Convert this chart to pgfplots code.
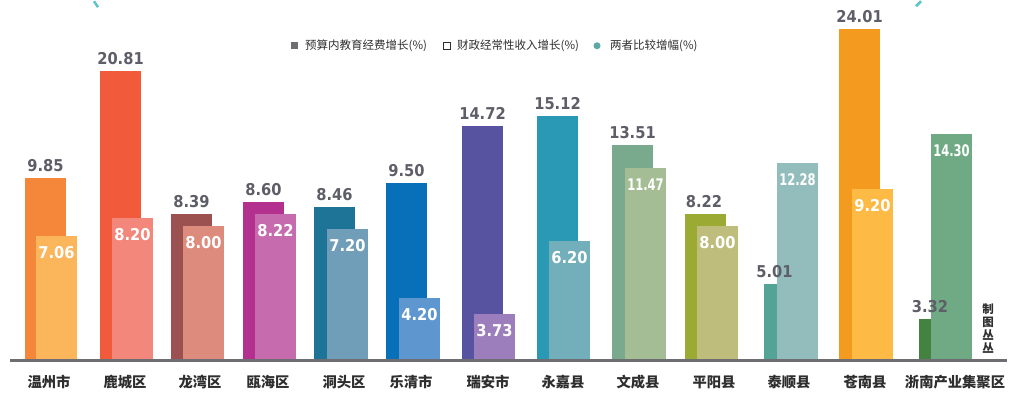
\documentclass[border=0pt]{standalone}
\usepackage{pgfplots}
\pgfplotsset{compat=1.18}
\usepackage{fontspec}
\setmainfont{DejaVu Sans}
\newfontfamily\cjk{Noto Sans CJK SC}
\newfontfamily\numfont[FakeStretch=0.9]{DejaVu Sans}
\newfontfamily\numnarrow[FakeStretch=0.72]{DejaVu Sans}
\definecolor{aA}{HTML}{F4873A}\definecolor{aB}{HTML}{FBB55A}
\definecolor{bA}{HTML}{F15A3A}\definecolor{bB}{HTML}{F3877B}
\definecolor{cA}{HTML}{9A5150}\definecolor{cB}{HTML}{DC8B7D}
\definecolor{dA}{HTML}{B3308F}\definecolor{dB}{HTML}{C66CAE}
\definecolor{eA}{HTML}{1E7496}\definecolor{eB}{HTML}{709EB8}
\definecolor{fA}{HTML}{0870B8}\definecolor{fB}{HTML}{5E97D0}
\definecolor{gA}{HTML}{5853A1}\definecolor{gB}{HTML}{9C7EBD}
\definecolor{hA}{HTML}{2A99B6}\definecolor{hB}{HTML}{72AFBB}
\definecolor{iA}{HTML}{7AAA8D}\definecolor{iB}{HTML}{A4BD94}
\definecolor{jA}{HTML}{9BAA33}\definecolor{jB}{HTML}{BEBD7B}
\definecolor{kA}{HTML}{53A497}\definecolor{kB}{HTML}{92BDBC}
\definecolor{lA}{HTML}{F49A1F}\definecolor{lB}{HTML}{FDBB46}
\definecolor{mA}{HTML}{44833F}\definecolor{mB}{HTML}{6FAA84}
\definecolor{lblgray}{HTML}{5E5E68}
\definecolor{axgray}{HTML}{6E6E72}
\definecolor{txt}{HTML}{2E2E2E}
\definecolor{deco}{HTML}{5CC6C4}
\pgfplotsset{bb/.style={ybar, bar width=41, bar shift=0pt, draw=none, fill=#1}}
\begin{document}
\begin{tikzpicture}
\begin{axis}[
  width=1012pt, height=398pt, scale only axis,
  xmin=0, xmax=1012, ymin=-40, ymax=358,
  axis line style={draw=none},
  ytick=\empty,
  xtick={49,125,200,268,344,411,488,563,638,714,789,865,955},
  xticklabels={温州市,鹿城区,龙湾区,瓯海区,洞头区,乐清市,瑞安市,永嘉县,文成县,平阳县,泰顺县,苍南县,浙南产业集聚区},
  major tick length=0pt,
  xticklabel style={anchor=center, yshift=17pt, inner sep=0pt, text=txt,
    font=\cjk\bfseries\fontsize{14.3}{14.3}\selectfont},
  clip=false,
]
\path (axis cs:0,-40) rectangle (axis cs:1012,358);
% first series (budget education spending growth), bar heights as drawn
\addplot[bb=aA] coordinates {(45.5,181)};
\addplot[bb=bA] coordinates {(120.5,288)};
\addplot[bb=cA] coordinates {(191.5,145)};
\addplot[bb=dA] coordinates {(263.5,157)};
\addplot[bb=eA] coordinates {(334.5,152)};
\addplot[bb=fA] coordinates {(406.5,176)};
\addplot[bb=gA] coordinates {(482.5,233)};
\addplot[bb=hA] coordinates {(557.5,243)};
\addplot[bb=iA] coordinates {(632.5,214)};
\addplot[bb=jA] coordinates {(705.5,145)};
\addplot[bb=kA] coordinates {(784.5,75)};
\addplot[bb=lA] coordinates {(859.5,330)};
\addplot[bb=mA] coordinates {(939.5,40)};
% second series (fiscal recurring revenue growth)
\addplot[bb=aB] coordinates {(56.5,123)};
\addplot[bb=bB] coordinates {(132.5,141)};
\addplot[bb=cB] coordinates {(203.5,133)};
\addplot[bb=dB] coordinates {(275.5,145)};
\addplot[bb=eB] coordinates {(347.5,130)};
\addplot[bb=fB] coordinates {(419.5,61)};
\addplot[bb=gB] coordinates {(494.5,45)};
\addplot[bb=hB] coordinates {(569.5,118)};
\addplot[bb=iB] coordinates {(645.5,191)};
\addplot[bb=jB] coordinates {(717.5,133)};
\addplot[bb=kB] coordinates {(797.5,196)};
\addplot[bb=lB] coordinates {(872.5,170)};
\addplot[bb=mB] coordinates {(951.5,225)};
% value labels
\addplot[draw=none, mark=none, point meta=explicit symbolic, nodes near coords,
  nodes near coords style={anchor=base, inner sep=0pt, yshift=7pt, text=lblgray,
    font=\numfont\bfseries\fontsize{16.3}{16}\selectfont}]
  coordinates {(45.5,181)[9.85] (120.5,288)[20.81] (191.5,145)[8.39] (263.5,157)[8.60]
   (334.5,152)[8.46] (406.5,176)[9.50] (482.5,233)[14.72] (557.5,243)[15.12]
   (632.5,214)[13.51] (704,145)[8.22] (774.5,75)[5.01] (859.5,330)[24.01] (930,40)[3.32]};
\addplot[draw=none, mark=none, point meta=explicit symbolic, nodes near coords,
  nodes near coords style={anchor=base, inner sep=0pt, yshift=-22pt, text=white,
    font=\numfont\bfseries\fontsize{16.3}{16}\selectfont}]
  coordinates {(56.5,123)[7.06] (132.5,141)[8.20] (203.5,133)[8.00] (275.5,145)[8.22]
   (347.5,130)[7.20] (419.5,61)[4.20] (494.5,45)[3.73] (569.5,118)[6.20]
   (717.5,133)[8.00] (872.5,170)[9.20]};
\addplot[draw=none, mark=none, point meta=explicit symbolic, nodes near coords,
  nodes near coords style={anchor=base, inner sep=0pt, yshift=-22pt, text=white,
    font=\numnarrow\bfseries\fontsize{16}{16}\selectfont}]
  coordinates {(645.5,191)[11.47] (797.5,196)[12.28] (951.5,225)[14.30]};
% baseline
\draw[axgray, line width=2.6pt] (axis cs:10,-1) -- (axis cs:1007,-1);
% legend
\fill[axgray] (axis cs:291,317) rectangle (axis cs:298,310);
\draw[txt, line width=0.7pt] (axis cs:443.5,316.5) rectangle (axis cs:450.5,309.5);
\fill[deco!80!black!90] (axis cs:597,313.5) circle[radius=3.5pt];
\begin{scope}[every node/.style={anchor=west, inner sep=0pt, text=txt, font=\cjk\fontsize{11.5}{12}\selectfont}]
\node at (axis cs:305,313.5) {预算内教育经费增长(\%)};
\node at (axis cs:457,313.5) {财政经常性收入增长(\%)};
\node at (axis cs:610,313.5) {两者比较增幅(\%)};
\end{scope}
% credit
\node[align=center, inner sep=0pt, text=txt, font=\cjk\bfseries\fontsize{11.5}{13}\selectfont]
  at (axis cs:988,30.5) {制\\图\\丛\\丛};
% decorative marks at top
\draw[deco, line width=2.5pt] (axis cs:94,358) -- (axis cs:98,352);
\draw[deco, line width=2.5pt] (axis cs:921,358) -- (axis cs:916,353);
\end{axis}
\end{tikzpicture}
\end{document}
